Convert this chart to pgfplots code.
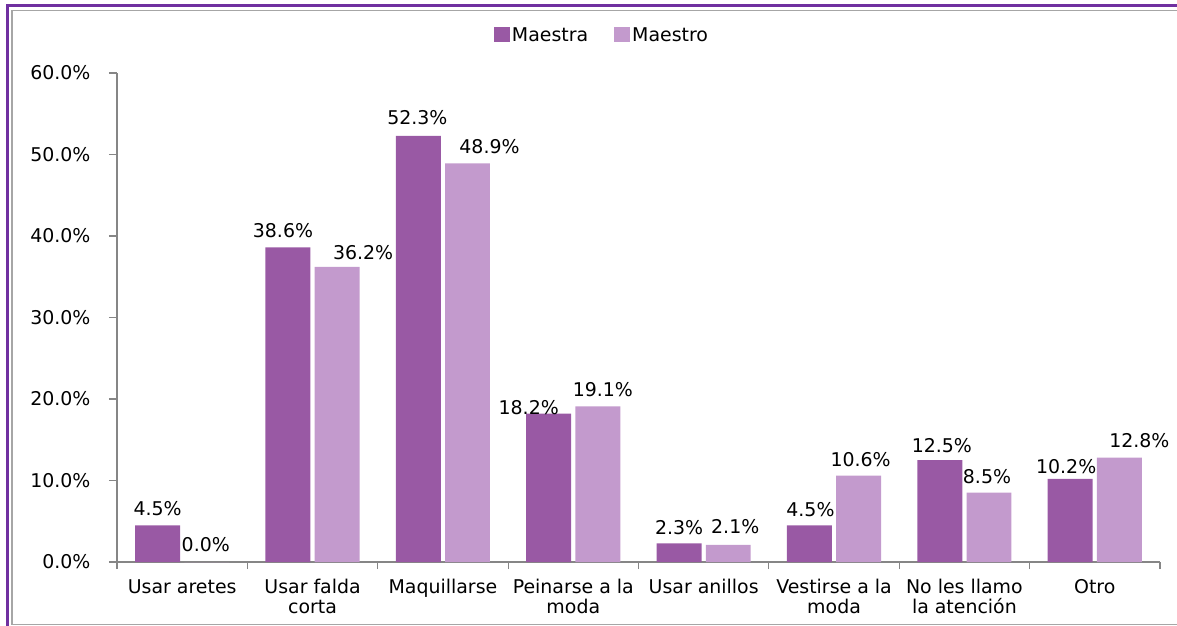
\documentclass[border=0pt]{standalone}
\usepackage{fontspec}
\setmainfont{DejaVu Sans}
\usepackage{pgfplots}
\usepackage{pgfplotstable}
\pgfplotsset{compat=1.18}

\definecolor{maestra}{RGB}{153,89,164}
\definecolor{maestro}{RGB}{195,154,205}
\definecolor{axisgray}{RGB}{134,134,134}
\definecolor{framepurple}{RGB}{112,48,160}
\definecolor{framegray}{RGB}{166,166,166}

\newcommand{\chartfont}{\fontsize{19}{20}\selectfont}

% x = category, y = percent, dx/dy = label offset in bp
\pgfplotstableread{
x y dx dy
0 4.5 0 1
1 38.6 -5 1
2 52.3 -1 2
3 18.2 -20 -10
4 2.3 0 0
5 4.5 1 0
6 12.5 2 -1
7 10.2 -4 -4
}\maestra

\pgfplotstableread{
x y dx dy
0 0.0 -1 1
1 36.2 26 -2
2 48.9 22 1
3 19.1 5 1
4 2.1 7 2
5 10.6 2 0
6 8.5 -2 0
7 12.8 20 1
}\maestro

\begin{document}
\begin{tikzpicture}
\path[use as bounding box] (0,0) rectangle (1177bp,626bp);

\begin{axis}[
    at={(117bp,64bp)}, anchor=south west,
    scale only axis,
    width=1043bp, height=489bp,
    xmin=-0.5, xmax=7.5,
    ymin=0, ymax=60,
    enlargelimits=false,
    clip=false,
    axis lines=left,
    axis line style={-, draw=axisgray, line width=1.2bp},
    tick align=outside,
    tick style={draw=axisgray, line width=1.2bp},
    major tick length=8bp,
    minor tick length=7bp,
    ytick={0,10,...,60},
    yticklabel={\pgfmathprintnumber[fixed,fixed zerofill,precision=1]{\tick}\%},
    xtick={0,...,7},
    major x tick style={draw=none},
    minor xtick={-0.5,0.5,...,7.5},
    xticklabels={Usar aretes, {Usar falda\\corta}, Maquillarse,
        {Peinarse a la\\moda}, Usar anillos, {Vestirse a la\\moda},
        {No les llamo\\la atención}, Otro},
    xticklabel style={align=center, font=\chartfont, yshift=-6bp},
    yticklabel style={font=\chartfont, xshift=-15bp},
    /pgf/number format/assume math mode=true,
    ybar,
    bar width=0.345,
    legend style={draw=none, fill=none, at={(0.465,1.078)}, anchor=center,
        font=\chartfont, legend columns=2,
        /tikz/every even column/.append style={column sep=24bp}},
    legend image code/.code={\fill[#1] (0bp,-7bp) rectangle (16bp,8bp);},
    nodes near coords={\pgfmathprintnumber[fixed,fixed zerofill,precision=1]{\pgfplotspointmeta}\%},
    visualization depends on={\thisrow{dx} \as \dx},
    visualization depends on={\thisrow{dy} \as \dy},
    every node near coord/.append style={font=\chartfont, anchor=center,
        xshift=\dx bp, yshift=16bp+\dy bp},
]
\addplot[fill=maestra, draw=none, bar shift=-0.1885] table[x=x, y=y] {\maestra};
\addplot[fill=maestro, draw=none, bar shift=0.1885] table[x=x, y=y] {\maestro};
\legend{Maestra, Maestro}
\end{axis}

% outer frame of the chart
\draw[framepurple, line width=3bp] (7bp,0) -- (7bp,620bp) -- (1177bp,620bp);
\draw[framegray, line width=1.7bp] (1177bp,1.5bp) -- (12bp,1.5bp) -- (12bp,615.5bp) -- (1177bp,615.5bp);
\end{tikzpicture}
\end{document}
